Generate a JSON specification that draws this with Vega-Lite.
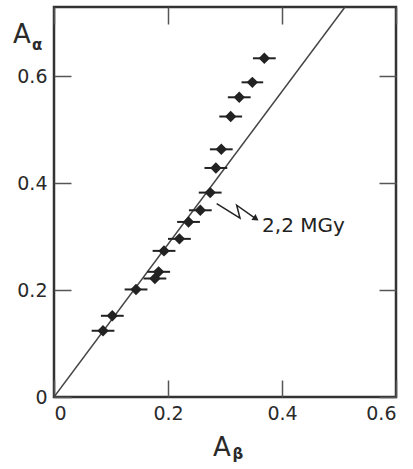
{
  "$schema": "https://vega.github.io/schema/vega-lite/v6.json",
  "width": 342,
  "height": 390,
  "autosize": "none",
  "padding": {"left": 54, "top": 7, "right": 17, "bottom": 72},
  "background": "white",
  "config": {
    "view": {"stroke": "#333", "strokeWidth": 2.5},
    "axis": {
      "domain": false, "grid": false, "tickColor": "#555", "tickWidth": 1.5,
      "tickSize": -17, "labelPadding": 24, "labelFont": "DejaVu Sans",
      "labelFontSize": 19, "labelColor": "#2a2a2a", "title": null
    }
  },
  "datasets": {
    "points": [
      {"Ab": 0.369, "Aa": 0.634, "err": 0.02},
      {"Ab": 0.348, "Aa": 0.589, "err": 0.019},
      {"Ab": 0.325, "Aa": 0.561, "err": 0.02},
      {"Ab": 0.310, "Aa": 0.525, "err": 0.02},
      {"Ab": 0.2935, "Aa": 0.4636, "err": 0.02},
      {"Ab": 0.284, "Aa": 0.4287, "err": 0.02},
      {"Ab": 0.274, "Aa": 0.3826, "err": 0.02},
      {"Ab": 0.2567, "Aa": 0.3495, "err": 0.02},
      {"Ab": 0.236, "Aa": 0.3277, "err": 0.02},
      {"Ab": 0.220, "Aa": 0.296, "err": 0.02},
      {"Ab": 0.193, "Aa": 0.2735, "err": 0.02},
      {"Ab": 0.1836, "Aa": 0.2343, "err": 0.02},
      {"Ab": 0.177, "Aa": 0.2218, "err": 0.02},
      {"Ab": 0.1439, "Aa": 0.2013, "err": 0.02},
      {"Ab": 0.1023, "Aa": 0.152, "err": 0.02},
      {"Ab": 0.086, "Aa": 0.124, "err": 0.02}
    ],
    "fit": [
      {"Ab": 0, "Aa": 0},
      {"Ab": 0.5105, "Aa": 0.73}
    ],
    "arrow": [
      {"Ab": 0.2854, "Aa": 0.362, "order": 1},
      {"Ab": 0.3263, "Aa": 0.335, "order": 2},
      {"Ab": 0.3205, "Aa": 0.3589, "order": 3},
      {"Ab": 0.3544, "Aa": 0.3336, "order": 4}
    ],
    "head": [
      {"Ab": 0.3544, "Aa": 0.3336}
    ],
    "note": [
      {"Ab": 0.365, "Aa": 0.309, "text": "2,2 MGy"}
    ],
    "titlesBig": [
      {"Ab": -0.0719, "Aa": 0.6617, "text": "A"},
      {"Ab": 0.279, "Aa": -0.1103, "text": "A"}
    ],
    "titlesSub": [
      {"Ab": -0.0386, "Aa": 0.6486, "text": "α"},
      {"Ab": 0.313, "Aa": -0.1159, "text": "β"}
    ]
  },
  "resolve": {"axis": {"x": "independent", "y": "independent"}},
  "layer": [
    {
      "data": {"name": "fit"},
      "mark": {"type": "line", "color": "#444", "strokeWidth": 1.5, "clip": true},
      "encoding": {
        "x": {"field": "Ab", "type": "quantitative", "scale": {"domain": [0, 0.6], "nice": false, "zero": false},
              "axis": {"orient": "top", "values": [0, 0.2, 0.4, 0.6], "labels": false}},
        "y": {"field": "Aa", "type": "quantitative", "scale": {"domain": [0, 0.73], "nice": false, "zero": false},
              "axis": {"orient": "right", "values": [0, 0.2, 0.4, 0.6], "labels": false}}
      }
    },
    {
      "data": {"name": "points"},
      "mark": {"type": "errorbar", "ticks": false, "rule": {"stroke": "#222", "strokeWidth": 2}},
      "encoding": {
        "x": {"field": "Ab", "type": "quantitative",
              "axis": {"orient": "bottom", "values": [0, 0.2, 0.4, 0.6], "format": ".1~f", "title": null}},
        "xError": {"field": "err"},
        "y": {"field": "Aa", "type": "quantitative",
              "axis": {"orient": "left", "values": [0, 0.2, 0.4, 0.6], "format": ".1~f", "title": null}}
      }
    },
    {
      "data": {"name": "points"},
      "mark": {"type": "point", "shape": "diamond", "filled": true, "color": "#222", "size": 130, "opacity": 1},
      "encoding": {
        "x": {"field": "Ab", "type": "quantitative", "axis": null},
        "y": {"field": "Aa", "type": "quantitative", "axis": null}
      }
    },
    {
      "data": {"name": "arrow"},
      "mark": {"type": "line", "color": "#222", "strokeWidth": 1.5},
      "encoding": {
        "x": {"field": "Ab", "type": "quantitative", "axis": null},
        "y": {"field": "Aa", "type": "quantitative", "axis": null},
        "order": {"field": "order"}
      }
    },
    {
      "data": {"name": "head"},
      "mark": {"type": "point", "shape": "triangle-right", "filled": true, "color": "#222", "size": 50, "angle": 35, "opacity": 1},
      "encoding": {
        "x": {"field": "Ab", "type": "quantitative", "axis": null},
        "y": {"field": "Aa", "type": "quantitative", "axis": null}
      }
    },
    {
      "data": {"name": "note"},
      "mark": {"type": "text", "align": "left", "baseline": "alphabetic", "font": "DejaVu Sans", "fontSize": 20, "color": "#222"},
      "encoding": {
        "x": {"field": "Ab", "type": "quantitative", "axis": null},
        "y": {"field": "Aa", "type": "quantitative", "axis": null},
        "text": {"field": "text"}
      }
    },
    {
      "data": {"name": "titlesBig"},
      "mark": {"type": "text", "align": "left", "baseline": "alphabetic", "font": "DejaVu Sans", "fontSize": 26, "color": "#2a2a2a"},
      "encoding": {
        "x": {"field": "Ab", "type": "quantitative", "axis": null},
        "y": {"field": "Aa", "type": "quantitative", "axis": null},
        "text": {"field": "text"}
      }
    },
    {
      "data": {"name": "titlesSub"},
      "mark": {"type": "text", "align": "left", "baseline": "alphabetic", "font": "DejaVu Sans", "fontSize": 15, "fontWeight": "bold", "color": "#2a2a2a"},
      "encoding": {
        "x": {"field": "Ab", "type": "quantitative", "axis": null},
        "y": {"field": "Aa", "type": "quantitative", "axis": null},
        "text": {"field": "text"}
      }
    }
  ]
}
